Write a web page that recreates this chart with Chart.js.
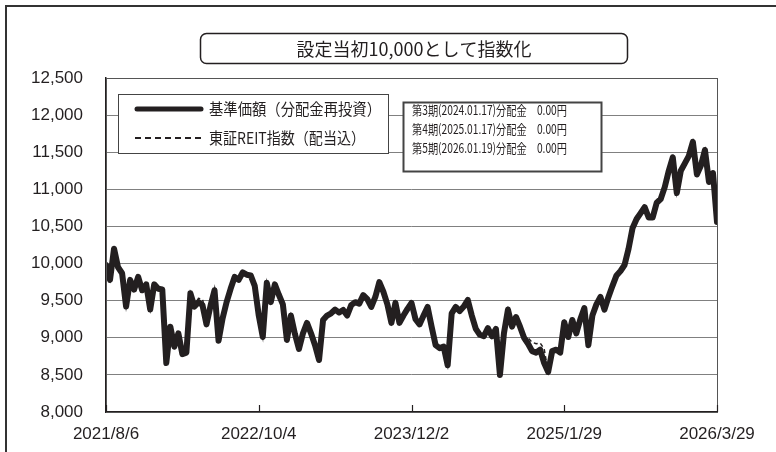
<!DOCTYPE html>
<html lang="ja">
<head>
<meta charset="utf-8">
<script src="https://cdn.jsdelivr.net/npm/chart.js@4.4.1/dist/chart.umd.min.js"></script>
<style>
  body { margin: 0; background: #fff; }
  canvas { display: block; }
</style>
</head>
<body>
<canvas id="navChart" width="776" height="452"></canvas>
<script>
// x axis: days since 2021/8/6, ticks every 424 days
const xLabels = ['2021/8/6', '2022/10/4', '2023/12/2', '2025/1/29', '2026/3/29'];
const daySpan = 1696;
const yTicks = [8000, 12500, 500]; // min, max, step

const seriesNames = ['基準価額（分配金再投資）', '東証REIT指数（配当込）'];

// 基準価額（分配金再投資）, equally spaced samples
const fundValues = [
  9980, 9780, 10200, 9950, 9870, 9420, 9780, 9650, 9820, 9640,
  9720, 9380, 9720, 9660, 9650, 8660, 9150, 8880, 9060, 8780,
  8800, 9600, 9420, 9480, 9440, 9180, 9430, 9640, 8960, 9260,
  9480, 9660, 9820, 9780, 9880, 9850, 9840, 9700, 9300, 9010,
  9740, 9480, 9720, 9580, 9450, 8970, 9300, 9050, 8850, 9060,
  9200, 9060, 8900, 8700, 9240, 9300, 9330, 9380, 9340, 9375,
  9300, 9440, 9480, 9460, 9575, 9520, 9415, 9550, 9750, 9620,
  9450, 9200, 9470, 9200, 9300, 9390, 9470, 9250, 9180, 9300,
  9415, 9150, 8900, 8860, 8880, 8630, 9330, 9415, 9360, 9420,
  9510, 9300, 9120, 9040, 9020, 9130, 9020, 9120, 8500, 9060,
  9380, 9150, 9280, 9150, 9000, 8920, 8820, 8800, 8840, 8660,
  8540, 8820, 8840, 8800, 9210, 9010, 9240, 9060, 9250, 9400,
  8900, 9300, 9450, 9550, 9380, 9550, 9700, 9840, 9900, 9980,
  10200, 10480, 10600, 10680, 10760, 10620, 10620, 10820, 10870, 11030,
  11250, 11430, 10950, 11250, 11350, 11450, 11640, 11200, 11320, 11530,
  11100, 11220, 10560
];

// 東証REIT指数（配当込）, mostly hidden under the fund line
const reitValues = [
  9980, 9780, 10200, 9950, 9870, 9420, 9780, 9650, 9820, 9640,
  9720, 9380, 9720, 9660, 9650, 8660, 9150, 8880, 9060, 8780,
  8800, 9600, 9420, 9530, 9520, 9300, 9430, 9660, 8960, 9260,
  9480, 9660, 9820, 9780, 9880, 9850, 9840, 9700, 9300, 9010,
  9740, 9480, 9720, 9580, 9450, 8970, 9300, 9050, 8850, 9060,
  9200, 9060, 8900, 8700, 9240, 9300, 9330, 9380, 9340, 9375,
  9300, 9440, 9480, 9460, 9575, 9520, 9415, 9550, 9750, 9620,
  9450, 9200, 9470, 9200, 9330, 9390, 9470, 9250, 9180, 9300,
  9415, 9150, 8900, 8860, 8880, 8630, 9330, 9415, 9360, 9420,
  9510, 9300, 9120, 9040, 9020, 9130, 9020, 9120, 8500, 9060,
  9380, 9150, 9280, 9150, 9010, 9000, 8940, 8920, 8930, 8850,
  8540, 8820, 8840, 8800, 9210, 9010, 9240, 9060, 9250, 9400,
  8900, 9300, 9450, 9550, 9380, 9550, 9700, 9840, 9900, 9980,
  10200, 10480, 10600, 10680, 10760, 10620, 10620, 10820, 10870, 11030,
  11250, 11430, 10950, 11250, 11350, 11450, 11640, 11200, 11320, 11530,
  11100, 11220, 10560
];

const titleText = '設定当初10,000として指数化';
const distLines = [
  '第3期(2024.01.17)分配金　0.00円',
  '第4期(2025.01.17)分配金　0.00円',
  '第5期(2026.01.19)分配金　0.00円'
];

const ink = '#231f20';
const jp = '"Noto Sans CJK JP", sans-serif';
const latin = '"Liberation Sans", Arial, sans-serif';

function toPoints(values) {
  return values.map((v, i) => ({ x: i * daySpan / (values.length - 1), y: v }));
}

function roundRect(ctx, x, y, w, h, r) {
  ctx.beginPath();
  ctx.moveTo(x + r, y);
  ctx.arcTo(x + w, y, x + w, y + h, r);
  ctx.arcTo(x + w, y + h, x, y + h, r);
  ctx.arcTo(x, y + h, x, y, r);
  ctx.arcTo(x, y, x + w, y, r);
  ctx.closePath();
}

// frame, title box, inner ticks, legend and distribution box
const decorations = {
  id: 'decorations',
  beforeDraw(chart) {
    const ctx = chart.ctx;
    ctx.save();
    ctx.fillStyle = '#fff';
    ctx.fillRect(0, 0, chart.width, chart.height);
    ctx.strokeStyle = '#333';
    ctx.lineWidth = 2;
    ctx.beginPath();
    ctx.moveTo(6, chart.height);
    ctx.lineTo(6, 6);
    ctx.lineTo(chart.width, 6);
    ctx.stroke();

    // title box
    ctx.lineWidth = 1.5;
    ctx.strokeStyle = ink;
    roundRect(ctx, 200.5, 33.5, 427, 30, 6);
    ctx.stroke();
    ctx.fillStyle = ink;
    ctx.font = '18px ' + jp;
    ctx.textAlign = 'center';
    ctx.textBaseline = 'middle';
    ctx.fillText(titleText, 414, 49);
    ctx.restore();
  },
  afterDraw(chart) {
    const ctx = chart.ctx;
    const area = chart.chartArea;
    const xs = chart.scales.x;
    ctx.save();

    // plot frame
    ctx.strokeStyle = '#555';
    ctx.lineWidth = 1;
    ctx.strokeRect(area.left + 0.5, area.top + 0.5, area.right - area.left, area.bottom - area.top);

    // small inward ticks on the date axis
    ctx.strokeStyle = ink;
    ctx.lineWidth = 1.2;
    xs.ticks.forEach(t => {
      const px = Math.round(xs.getPixelForValue(t.value)) + 0.5;
      ctx.beginPath();
      ctx.moveTo(px, area.bottom);
      ctx.lineTo(px, area.bottom - 7);
      ctx.stroke();
    });

    // legend box
    ctx.fillStyle = '#fff';
    ctx.fillRect(118, 94, 270, 59);
    ctx.strokeStyle = '#444';
    ctx.lineWidth = 1;
    ctx.strokeRect(118.5, 94.5, 270, 59);

    ctx.strokeStyle = ink;
    ctx.lineCap = 'round';
    ctx.lineWidth = 5;
    ctx.beginPath();
    ctx.moveTo(137, 109);
    ctx.lineTo(201, 109);
    ctx.stroke();

    ctx.lineCap = 'butt';
    ctx.lineWidth = 2;
    ctx.setLineDash([6, 4]);
    ctx.beginPath();
    ctx.moveTo(135, 138);
    ctx.lineTo(204, 138);
    ctx.stroke();
    ctx.setLineDash([]);

    ctx.fillStyle = ink;
    ctx.font = '16px ' + jp;
    ctx.textAlign = 'left';
    ctx.textBaseline = 'middle';
    const legendWidths = [172, 156];
    seriesNames.forEach((name, i) => {
      const w = ctx.measureText(name).width;
      ctx.save();
      ctx.translate(209, 109 + i * 29);
      ctx.scale(Math.min(1, legendWidths[i] / w), 1);
      ctx.fillText(name, 0, 0);
      ctx.restore();
    });

    // distribution box
    ctx.fillStyle = '#fff';
    ctx.fillRect(403, 102, 198, 69);
    ctx.strokeStyle = '#444';
    ctx.strokeRect(403.5, 102.5, 198, 69);

    ctx.fillStyle = ink;
    ctx.font = '13px ' + jp;
    distLines.forEach((line, i) => {
      const w = ctx.measureText(line).width;
      ctx.save();
      ctx.translate(412, 110 + i * 19);
      ctx.scale(155 / w, 1);
      ctx.fillText(line, 0, 0);
      ctx.restore();
    });

    ctx.restore();
  }
};

const ctx = document.getElementById('navChart').getContext('2d');

new Chart(ctx, {
  type: 'line',
  data: {
    datasets: [
      {
        label: seriesNames[0],
        data: toPoints(fundValues),
        borderColor: ink,
        borderWidth: 6,
        borderJoinStyle: 'round',
        borderCapStyle: 'round',
        pointRadius: 0,
        tension: 0,
        order: 0
      },
      {
        label: seriesNames[1],
        data: toPoints(reitValues),
        borderColor: ink,
        borderWidth: 1.5,
        borderDash: [4, 3],
        pointRadius: 0,
        tension: 0,
        order: 1
      }
    ]
  },
  options: {
    responsive: false,
    animation: false,
    layout: {
      padding: { left: 0, top: 78, right: 59, bottom: 0 }
    },
    scales: {
      x: {
        type: 'linear',
        min: 0,
        max: daySpan,
        afterFit: scale => { scale.height = 40; },
        afterBuildTicks: scale => {
          scale.ticks = xLabels.map((l, i) => ({ value: i * daySpan / (xLabels.length - 1) }));
        },
        grid: { display: false, drawTicks: false },
        border: { display: true, color: ink, width: 1.5 },
        ticks: {
          autoSkip: false,
          maxRotation: 0,
          padding: 12,
          color: ink,
          font: { family: latin, size: 17 },
          callback: (value, index) => xLabels[index]
        }
      },
      y: {
        min: yTicks[0],
        max: yTicks[1],
        afterFit: scale => { scale.width = 106; },
        grid: { color: '#808080', lineWidth: 1, drawTicks: false },
        border: { display: true, color: ink, width: 1.5 },
        ticks: {
          stepSize: yTicks[2],
          padding: 23,
          color: ink,
          font: { family: latin, size: 17 },
          callback: value => value.toLocaleString('en-US')
        }
      }
    },
    plugins: {
      legend: { display: false },
      tooltip: { enabled: false }
    }
  },
  plugins: [decorations]
});
</script>
</body>
</html>
